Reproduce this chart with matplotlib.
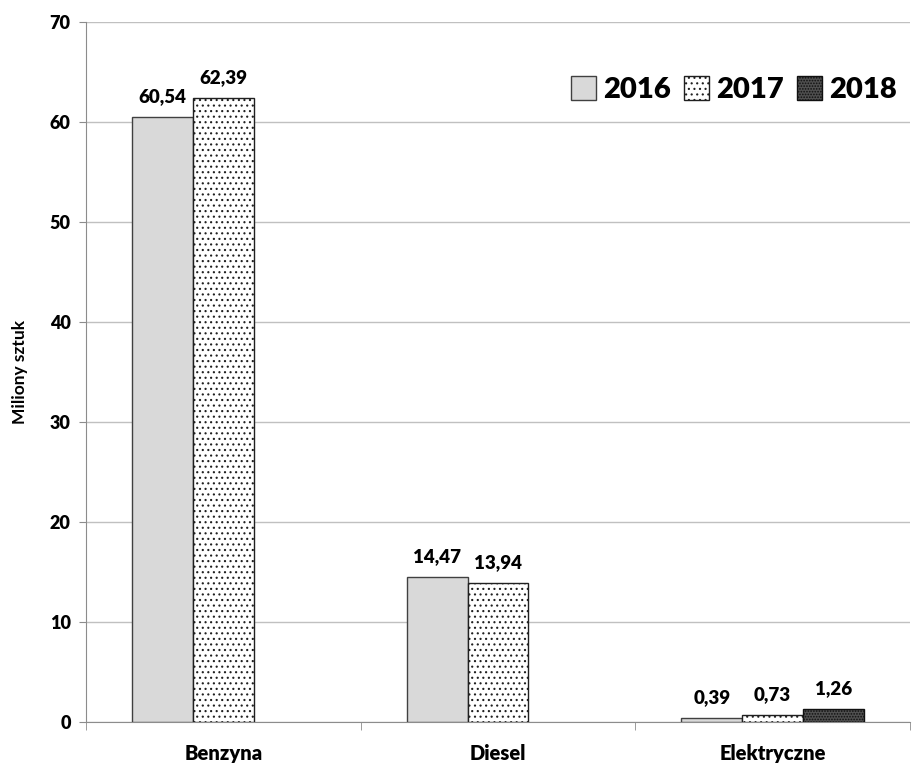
import numpy as np
import matplotlib.pyplot as plt
from matplotlib.patches import Patch

plt.rcParams['font.family'] = ['Lato', 'DejaVu Sans']
plt.rcParams['hatch.linewidth'] = 0.8

categories = ['Benzyna', 'Diesel', 'Elektryczne']
years = ['2016', '2017', '2018']
v2016 = [60.54, 14.47, 0.39]
v2017 = [62.39, 13.94, 0.73]
v2018 = [np.nan, np.nan, 1.26]
labels2016 = ['60,54', '14,47', '0,39']
labels2017 = ['62,39', '13,94', '0,73']
labels2018 = ['', '', '1,26']

fig = plt.figure(figsize=(9.14, 7.64), dpi=100)
ax = fig.add_axes([86/914, 1 - 722/764, 824/914, 700/764])

x = np.arange(len(categories))
w = 0.222
styles = [
    dict(facecolor='#d9d9d9', edgecolor='#404040', hatch=None),
    dict(facecolor='white', edgecolor='#202020', hatch='...'),
    dict(facecolor='#505050', edgecolor='#101010', hatch='......'),
]
series = [v2016, v2017, v2018]
texts = [labels2016, labels2017, labels2018]
handles = []
for i in range(3):
    vals = np.array(series[i])
    st = styles[i]
    bars = ax.bar(x + (i - 1) * w, np.nan_to_num(vals), w,
                  facecolor=st['facecolor'], edgecolor=st['edgecolor'],
                  hatch=st['hatch'], linewidth=1.0, zorder=3)
    handles.append(Patch(facecolor=st['facecolor'], edgecolor=st['edgecolor'],
                         hatch=st['hatch'], linewidth=1.0, label=years[i]))
    for b, v, t in zip(bars, vals, texts[i]):
        if np.isnan(v):
            b.set_visible(False)
            continue
        ax.text(b.get_x() + b.get_width() / 2, v + 1.2, t, ha='center', va='bottom',
                fontsize=13.5, fontweight='heavy')

ax.set_xlim(-0.5, 2.5)
ax.set_ylim(0, 70)
ax.set_yticks(range(0, 71, 10))
ax.yaxis.grid(True, color='#c0c0c0', linewidth=1)
ax.set_axisbelow(True)
for s in ['top', 'right']:
    ax.spines[s].set_visible(False)
ax.spines['left'].set_color('#8c8c8c')
ax.spines['bottom'].set_color('#8c8c8c')
ax.tick_params(axis='y', length=5, color='#8c8c8c', labelsize=13, pad=6)
for lab in ax.get_yticklabels():
    lab.set_fontweight('heavy')
ax.set_xticks(x)
ax.set_xticklabels(categories, fontsize=14.5, fontweight='heavy')
ax.tick_params(axis='x', which='major', length=0, pad=16)
ax.set_xticks([-0.5, 0.5, 1.5, 2.5], minor=True)
ax.tick_params(axis='x', which='minor', length=6, color='#8c8c8c')
ax.set_ylabel('Miliony sztuk', fontsize=12.5, fontweight='bold', labelpad=16)

leg = ax.legend(handles=handles, loc='upper right', bbox_to_anchor=(1.016, 0.96), ncol=3,
                frameon=False, prop={'size': 21, 'weight': 'heavy'}, handlelength=0.85,
                handleheight=0.85, handletextpad=0.25, columnspacing=0.45)

fig.savefig('out.png', dpi=100)
